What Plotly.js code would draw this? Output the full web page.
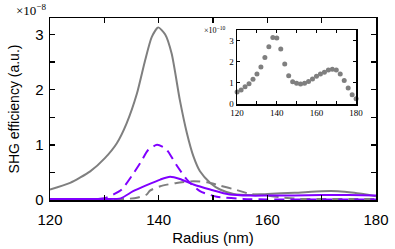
<!DOCTYPE html>
<html><head><meta charset="utf-8">
<script src="https://cdn.plot.ly/plotly-3.0.1.min.js"></script>
<style>html,body{margin:0;padding:0;background:#fff}#chart{width:395px;height:249px}</style>
</head><body><div id="chart"></div>
<script>
// Main plot (values in units of 1e-8)
const graySolidX = [120, 123.7, 127.4, 130.1, 132.3, 134.1, 136, 137.5, 138.7, 139.9, 141.2, 142.4, 143.9, 145.2, 146.4, 147.6, 149.5, 151.3, 153.8, 156.8, 160, 165, 170, 173, 176, 180];
const graySolidY = [0.19, 0.31, 0.52, 0.76, 1.03, 1.39, 1.93, 2.53, 2.95, 3.13, 3.0, 2.65, 1.81, 1.21, 0.79, 0.52, 0.31, 0.19, 0.11, 0.09, 0.11, 0.13, 0.16, 0.16, 0.13, 0.07];

const purpleDashX = [120, 125, 130, 131.7, 133.2, 135, 136.6, 138.1, 139.7, 141.2, 141.8, 143.3, 145.2, 147.6, 150.7, 155.6, 160, 170, 180];
const purpleDashY = [0.01, 0.01, 0.03, 0.10, 0.19, 0.43, 0.67, 0.91, 1.0, 0.94, 0.87, 0.63, 0.37, 0.16, 0.06, 0.02, 0.01, 0.01, 0.01];

const purpleSolidX = [120, 125, 130, 133, 135.3, 137.8, 140.3, 142.1, 143.9, 146.4, 149.5, 153.1, 156.8, 160, 165, 170, 175, 180];
const purpleSolidY = [0.02, 0.02, 0.02, 0.03, 0.16, 0.27, 0.37, 0.42, 0.38, 0.28, 0.19, 0.10, 0.08, 0.08, 0.08, 0.09, 0.09, 0.08];

const grayDashX = [120, 125, 130, 134.1, 136, 137.8, 138.4, 140.3, 143.3, 146.4, 148.9, 151.3, 154.4, 156.8, 160, 162.4, 166, 170, 175, 180];
const grayDashY = [0.0, 0.0, 0.0, 0.02, 0.04, 0.10, 0.17, 0.25, 0.31, 0.34, 0.32, 0.26, 0.18, 0.11, 0.08, 0.05, 0.02, 0.02, 0.02, 0.02];

// Inset (values in units of 1e-10)
const insetX = [120,122,124,126,128,130,132,134,136,138,140,142,144,146,148,150,152,154,156,158,160,162,164,166,168,170,172,174,176,178,180];
const insetY = [0.57,0.66,0.82,0.96,1.17,1.42,1.75,2.2,2.71,3.15,3.12,2.6,1.89,1.34,1.06,0.99,0.95,0.99,1.07,1.18,1.31,1.42,1.51,1.61,1.65,1.61,1.42,1.12,0.76,0.44,0.25];

const xTickVals = [120, 140, 160, 180];
const yTickVals = [0, 1, 2, 3];

const GRAY = '#7f7f7f';
const PURPLE = '#8000ff';
const DASH = '10px,6px';

const traces = [
  {x: graySolidX, y: graySolidY, mode: 'lines', line: {color: GRAY, width: 2, shape: 'spline', smoothing: 0.6}, xaxis: 'x', yaxis: 'y'},
  {x: grayDashX, y: grayDashY, mode: 'lines', line: {color: GRAY, width: 2, dash: DASH, shape: 'spline', smoothing: 0.6}, xaxis: 'x', yaxis: 'y'},
  {x: purpleDashX, y: purpleDashY, mode: 'lines', line: {color: PURPLE, width: 2, dash: DASH, shape: 'spline', smoothing: 0.6}, xaxis: 'x', yaxis: 'y'},
  {x: purpleSolidX, y: purpleSolidY, mode: 'lines', line: {color: PURPLE, width: 2, shape: 'spline', smoothing: 0.6}, xaxis: 'x', yaxis: 'y'},
  {x: insetX, y: insetY, mode: 'markers', marker: {color: GRAY, size: 5}, xaxis: 'x2', yaxis: 'y2', cliponaxis: false}
];

const sans = 'Liberation Sans, Arial, sans-serif';
const serif = 'Liberation Serif, DejaVu Serif, serif';

const layout = {
  width: 395, height: 249,
  margin: {l: 50, r: 19, t: 18, b: 49},
  showlegend: false,
  paper_bgcolor: '#fff', plot_bgcolor: '#fff',
  xaxis: {
    range: [120, 180], tickvals: xTickVals, ticktext: xTickVals.map(String),
    ticks: 'inside', ticklen: 5, tickwidth: 1.3, tickcolor: '#000', ticklabelstandoff: 5,
    minor: {dtick: 10, tick0: 120, ticks: 'inside', ticklen: 5, tickwidth: 1.3, tickcolor: '#000', showgrid: false},
    showline: true, linecolor: '#000', linewidth: 1.5, mirror: 'ticks',
    showgrid: false, zeroline: false,
    tickfont: {family: sans, size: 15, color: '#000'},
    title: {text: 'Radius (nm)', font: {family: sans, size: 15, color: '#000'}, standoff: 6}
  },
  yaxis: {
    range: [0, 3.3], tickvals: yTickVals, ticktext: yTickVals.map(String),
    ticks: 'inside', ticklen: 5, tickwidth: 1.3, tickcolor: '#000', ticklabelstandoff: 2,
    minor: {dtick: 0.5, tick0: 0, ticks: 'inside', ticklen: 5, tickwidth: 1.3, tickcolor: '#000', showgrid: false},
    showline: true, linecolor: '#000', linewidth: 1.5, mirror: 'ticks',
    showgrid: false, zeroline: false,
    tickfont: {family: sans, size: 15, color: '#000'},
    title: {text: 'SHG efficiency (a.u.)', font: {family: sans, size: 14, color: '#000'}, standoff: 12}
  },
  xaxis2: {
    domain: [0.574, 0.939], anchor: 'y2', range: [120, 180],
    tickvals: xTickVals, ticktext: xTickVals.map(String),
    ticks: 'inside', ticklen: 3, tickwidth: 1, tickcolor: '#000',
    minor: {dtick: 10, tick0: 120, ticks: 'inside', ticklen: 3, tickwidth: 1, tickcolor: '#000', showgrid: false},
    showline: true, linecolor: '#000', linewidth: 1.5, mirror: 'ticks',
    showgrid: false, zeroline: false,
    tickfont: {family: serif, size: 9, color: '#000'}
  },
  yaxis2: {
    domain: [0.527, 0.934], anchor: 'x2', range: [0, 3.5],
    tickvals: yTickVals, ticktext: yTickVals.map(String),
    ticks: 'inside', ticklen: 3, tickwidth: 1, tickcolor: '#000',
    showline: true, linecolor: '#000', linewidth: 1.5, mirror: 'ticks',
    showgrid: false, zeroline: false,
    tickfont: {family: serif, size: 9, color: '#000'}
  },
  annotations: [
    {xref: 'paper', yref: 'paper', x: -0.11, y: 0.99, xanchor: 'left', yanchor: 'bottom', showarrow: false,
     text: '×10<sup>−8</sup>', font: {family: serif, size: 13, color: '#000'}},
    {xref: 'paper', yref: 'paper', x: 0.465, y: 0.895, xanchor: 'left', yanchor: 'bottom', showarrow: false,
     text: '×10<sup>−10</sup>', font: {family: serif, size: 8, color: '#000'}}
  ]
};

Plotly.newPlot('chart', traces, layout, {staticPlot: true, displayModeBar: false});
</script></body></html>
